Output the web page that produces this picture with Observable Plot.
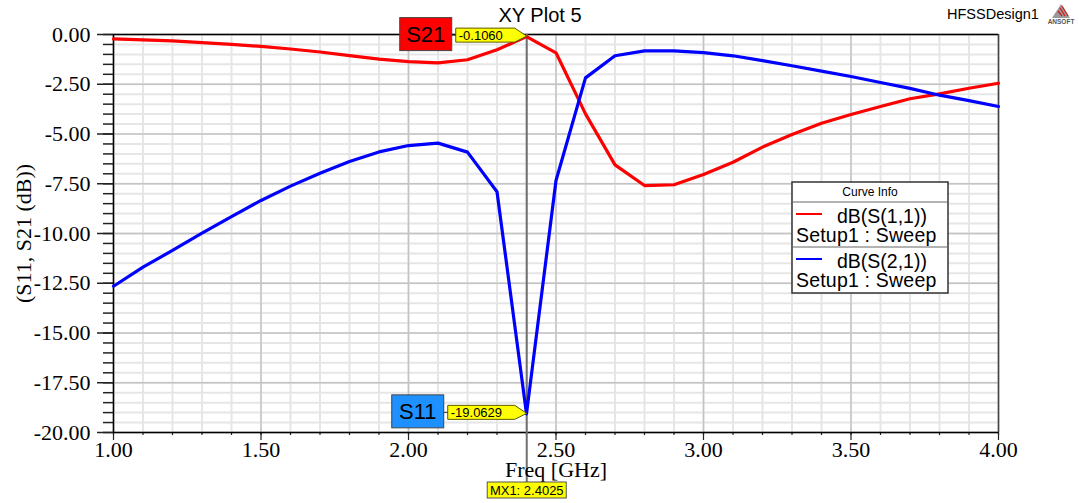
<!DOCTYPE html>
<html><head><meta charset="utf-8">
<script src="https://cdn.jsdelivr.net/npm/d3@7"></script>
<script src="https://cdn.jsdelivr.net/npm/@observablehq/plot@0.6"></script>
<style>html,body{margin:0;padding:0;background:#fff} svg{display:block}</style>
</head><body><div id="chart"></div>
<script>
// ---- data ----
const freq = [1.0,1.1,1.2,1.3,1.4,1.5,1.6,1.7,1.8,1.9,2.0,2.1,2.2,2.3,2.4,2.5,2.6,2.7,2.8,2.9,3.0,3.1,3.2,3.3,3.4,3.5,3.6,3.7,3.8,3.9,4.0];
const s11dB = [-0.22,-0.27,-0.32,-0.41,-0.50,-0.60,-0.73,-0.88,-1.06,-1.24,-1.36,-1.43,-1.27,-0.77,-0.106,-0.92,-3.99,-6.55,-7.59,-7.55,-7.04,-6.42,-5.66,-5.03,-4.46,-4.02,-3.62,-3.23,-2.98,-2.70,-2.45];
const s21dB = [-12.65,-11.69,-10.85,-9.98,-9.15,-8.34,-7.62,-6.97,-6.38,-5.90,-5.58,-5.46,-5.91,-7.90,-19.0629,-7.34,-2.18,-1.07,-0.82,-0.82,-0.91,-1.07,-1.31,-1.57,-1.84,-2.11,-2.41,-2.71,-3.05,-3.32,-3.62];
const seriesNames = ["dB(S(1,1))","dB(S(2,1))"];
const seriesSetup = "Setup1 : Sweep";
const seriesColors = ["#ff0000","#0000ff"];
const xMajorTicks = [1.0,1.5,2.0,2.5,3.0,3.5,4.0];
const xMinorTicks = [1.0,1.1,1.2,1.3,1.4,1.5,1.6,1.7,1.8,1.9,2.0,2.1,2.2,2.3,2.4,2.5,2.6,2.7,2.8,2.9,3.0,3.1,3.2,3.3,3.4,3.5,3.6,3.7,3.8,3.9,4.0];
const yMajorTicks = [0,-2.5,-5,-7.5,-10,-12.5,-15,-17.5,-20];
const yMinorTicks = [0,-0.5,-1,-1.5,-2,-2.5,-3,-3.5,-4,-4.5,-5,-5.5,-6,-6.5,-7,-7.5,-8,-8.5,-9,-9.5,-10,-10.5,-11,-11.5,-12,-12.5,-13,-13.5,-14,-14.5,-15,-15.5,-16,-16.5,-17,-17.5,-18,-18.5,-19,-19.5,-20];
const markerFreq = 2.4025;
const markerName = "MX1";
const markerLabels = ["S21","S11"];
const markerValues = [-0.1060,-19.0629];
const markerBoxColors = ["#ff0000","#1e90ff"];
const titleText = "XY Plot 5";
const designText = "HFSSDesign1";
const xLabel = "Freq [GHz]";
const yLabel = "(S11, S21 (dB))";

const rows = [];
freq.forEach((f,i)=>{ rows.push({freq:f, dB:s11dB[i], series:seriesNames[0]}); });
freq.forEach((f,i)=>{ rows.push({freq:f, dB:s21dB[i], series:seriesNames[1]}); });

const SANS = "'Liberation Sans', Arial, sans-serif";

function markerLine(index, scales, values, dims) {
  const g = d3.create("svg:g");
  const mx = scales.x(markerFreq);
  g.append("line").attr("x1",mx).attr("x2",mx)
    .attr("y1",dims.marginTop).attr("y2",dims.height-21)
    .attr("stroke","#707070").attr("stroke-width",2);
  return g.node();
}

function annotations(index, scales, values, dims) {
  const g = d3.create("svg:g").attr("font-family", SANS).attr("text-anchor","start").attr("fill","#000");
  const mx = scales.x(markerFreq);
  const tagW = [71, 79], boxW = 52, boxH = 33;
  markerValues.forEach((v,i)=>{
    const py = scales.y(v);
    const cy = py - 1;
    const left = mx - tagW[i];
    g.append("path")
      .attr("d", `M${left},${cy-7}H${mx-12}L${mx},${py}L${mx-12},${cy+7}H${left}Z`)
      .attr("fill","#ffff00").attr("stroke","#5a5a00").attr("stroke-width",1);
    g.append("text").attr("x", left+3).attr("y", cy+4.5).attr("text-anchor","start")
      .attr("font-size",13).attr("fill","#000")
      .text(v.toFixed(4));
    const bx = left - 4 - boxW, by = cy - 1 - boxH/2;
    g.append("line").attr("x1",left-4).attr("x2",left).attr("y1",cy).attr("y2",cy).attr("stroke","#333");
    g.append("rect").attr("x",bx).attr("y",by).attr("width",boxW).attr("height",boxH)
      .attr("fill",markerBoxColors[i]).attr("stroke","#444").attr("stroke-width",1);
    g.append("text").attr("x",bx+boxW/2).attr("y",by+boxH/2+7.5)
      .attr("text-anchor","middle").attr("font-size",22).attr("fill","#000")
      .text(markerLabels[i]);
  });
  // MX1 box
  const mw = 79, mh = 16, mtop = dims.height - 21;
  g.append("rect").attr("x",mx-mw/2).attr("y",mtop).attr("width",mw).attr("height",mh)
    .attr("fill","#ffff00").attr("stroke","#555").attr("stroke-width",1);
  g.append("text").attr("x",mx).attr("y",mtop+12.5).attr("text-anchor","middle")
    .attr("font-size",13).text(`${markerName}: ${markerFreq.toFixed(4)}`);

  // legend
  const lx = 792, ly = 182, lw = 156, lh = 111;
  const L = g.append("g");
  L.append("rect").attr("x",lx).attr("y",ly).attr("width",lw).attr("height",lh)
    .attr("fill","#fff").attr("stroke","#333").attr("stroke-width",1.5);
  L.append("line").attr("x1",lx).attr("x2",lx+lw).attr("y1",ly+20).attr("y2",ly+20).attr("stroke","#666");
  L.append("line").attr("x1",lx).attr("x2",lx+lw).attr("y1",ly+65).attr("y2",ly+65).attr("stroke","#666");
  L.append("text").attr("x",lx+lw/2).attr("y",ly+14).attr("text-anchor","middle")
    .attr("font-size",12).text("Curve Info");
  seriesNames.forEach((n,i)=>{
    const oy = ly + 20 + i*45;
    L.append("line").attr("x1",lx+4).attr("x2",lx+30).attr("y1",oy+12).attr("y2",oy+12)
      .attr("stroke",seriesColors[i]).attr("stroke-width",2);
    L.append("text").attr("x",lx+45).attr("y",oy+21).attr("text-anchor","start").attr("font-size",19.5).text(n);
    L.append("text").attr("x",lx+4).attr("y",oy+40).attr("text-anchor","start").attr("font-size",19.5).attr("letter-spacing",0.2).text(seriesSetup);
  });

  // top right design name + logo
  g.append("text").attr("x",947).attr("y",19).attr("text-anchor","start").attr("font-size",14.5).text(designText);
  const lg = g.append("g").attr("transform","translate(1061,4)");
  lg.append("path").attr("d","M0,0L9,14H-9Z").attr("fill","#9a9a9a");
  lg.append("path").attr("d","M-1,4L4,12M1,2L7,12M-3,7L1,12").attr("stroke","#d02020").attr("stroke-width",1.3);
  lg.append("text").attr("x",0).attr("y",20).attr("text-anchor","middle")
    .attr("font-size",6.5).attr("font-weight","bold").attr("fill","#555").text("ANSOFT");
  return g.node();
}

const chart = Plot.plot({
  width: 1079, height: 503,
  marginLeft: 113, marginRight: 81, marginTop: 34, marginBottom: 71,
  style: {fontFamily: "'Liberation Serif', 'Times New Roman', serif", background: "#fff", color: "#000"},
  x: {domain: [1, 4]},
  y: {domain: [-20, 0]},
  color: {domain: seriesNames, range: seriesColors},
  marks: [
    Plot.ruleX(xMinorTicks, {stroke: "#e6e6e6", strokeWidth: 2}),
    Plot.ruleY(yMinorTicks, {stroke: "#e6e6e6", strokeWidth: 2}),
    Plot.ruleX(xMajorTicks, {stroke: "#c4c4c4", strokeWidth: 1.5}),
    Plot.ruleY(yMajorTicks, {stroke: "#c4c4c4", strokeWidth: 1.5}),
    Plot.axisY(yMinorTicks, {tickSize: 10, tickFormat: () => "", label: null, strokeWidth: 1.5, stroke: "#222"}),
    Plot.axisY(yMajorTicks, {tickSize: 16, tickPadding: 7, tickFormat: d => d.toFixed(2), label: null, fontSize: 22, strokeWidth: 1.5, stroke: "#222"}),
    Plot.axisX(xMinorTicks, {tickSize: 3, tickFormat: () => "", label: null, strokeWidth: 1.2, stroke: "#222"}),
    Plot.axisX(xMajorTicks, {tickSize: 8, tickPadding: 1, tickFormat: d => d.toFixed(2), label: null, fontSize: 22, strokeWidth: 1.2, stroke: "#222"}),
    Plot.ruleX([4], {stroke: "#444", strokeWidth: 1.5}),
    Plot.ruleX([1], {stroke: "#000", strokeWidth: 1.5}),
    Plot.ruleY([0], {stroke: "#000", strokeWidth: 1.5}),
    Plot.ruleY([-20], {stroke: "#000", strokeWidth: 1.5}),
    markerLine,
    Plot.line(rows, {x: "freq", y: "dB", stroke: "series", strokeWidth: 3.2}),
    Plot.text([yLabel], {frameAnchor: "left", dx: -90, rotate: -90, fontSize: 22, textAnchor: "middle", lineAnchor: "middle"}),
    Plot.text([xLabel], {frameAnchor: "bottom", dy: 37, fontSize: 22, textAnchor: "middle", lineAnchor: "middle"}),
    Plot.text([titleText], {frameAnchor: "top", dx: -16, dy: -19, fontSize: 20, fontFamily: SANS, textAnchor: "middle", lineAnchor: "middle"}),
    annotations
  ]
});
document.getElementById("chart").appendChild(chart);
</script>
</body></html>
